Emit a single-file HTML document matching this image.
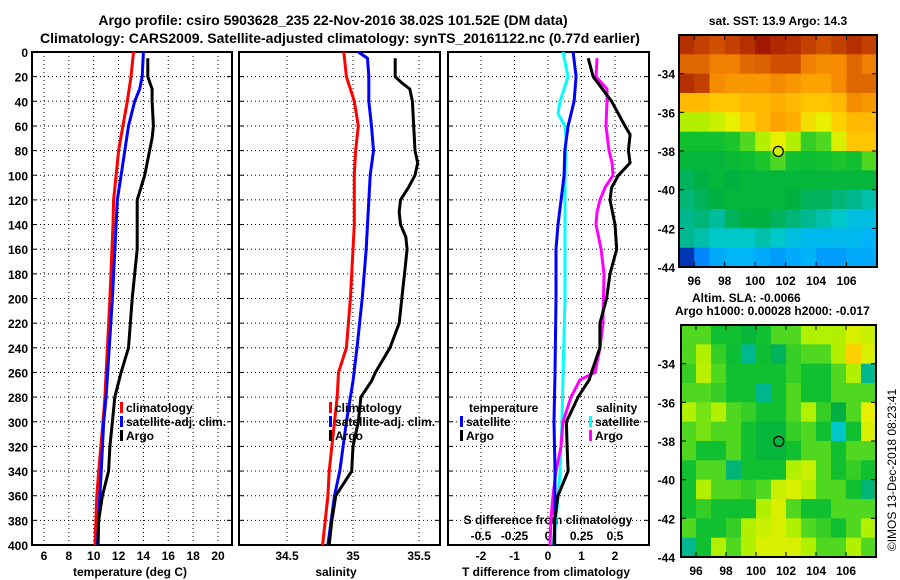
<!DOCTYPE html>
<html><head><meta charset="utf-8">
<style>
html,body{margin:0;padding:0;background:#fff;}
svg{display:block;font-family:"Liberation Sans",Arial,sans-serif;}
.t{font-weight:bold;font-size:12px;fill:#000;}
.h{font-weight:bold;font-size:14px;fill:#000;}
</style></head>
<body>
<svg id="c" width="900" height="580" viewBox="0 0 900 580" xmlns="http://www.w3.org/2000/svg">
<text class="h" x="333" y="25" text-anchor="middle">Argo profile: csiro 5903628_235 22-Nov-2016 38.02S 101.52E (DM data)</text>
<text class="h" x="340" y="43" text-anchor="middle">Climatology: CARS2009. Satellite-adjusted climatology: synTS_20161122.nc (0.77d earlier)</text>
<text class="t" x="778" y="25" text-anchor="middle">sat. SST: 13.9 Argo: 14.3</text>
<text class="t" x="692" y="302">Altim. SLA: -0.0066</text>
<text class="t" x="675" y="315">Argo h1000: 0.00028 h2000: -0.017</text>
<text x="0" y="0" font-size="12" transform="translate(896,470) rotate(-90)" text-anchor="middle">©IMOS 13-Dec-2018 08:23:41</text>
<g id="g"></g>
</svg>
<script>
// ---- profile data ----
const tClimDepth=[0,20,40,60,80,100,120,140,200,280,300,340,360,400];
const tClim=[13.2,13.0,12.7,12.35,12.0,11.8,11.6,11.55,11.3,10.9,10.75,10.4,10.25,10.1];
const tSatDepth=[0,20,30,40,60,80,100,120,140,200,280,300,340,360,400];
const tSat=[14.0,13.9,13.7,13.3,12.8,12.5,12.2,11.9,11.8,11.5,11.0,10.8,10.6,10.5,10.3];
const tArgoDepth=[5,20,30,40,60,70,80,100,120,140,160,200,240,260,280,300,320,340,360,380,400];
const tArgo=[14.35,14.35,14.7,14.7,14.8,14.7,14.5,14.1,13.5,13.5,13.5,13.1,12.8,12.2,11.7,11.5,11.3,11.2,10.7,10.4,10.35];
const sClimDepth=[0,20,40,60,80,100,140,160,200,240,260,280,300,340,360,400];
const sClim=[34.93,34.95,35.01,35.04,35.02,35.01,35.01,35.0,34.98,34.95,34.89,34.88,34.86,34.82,34.81,34.77];
const sSatDepth=[0,5,20,40,60,80,100,140,160,200,240,267,300,340,360,400];
const sSat=[35.04,35.11,35.12,35.12,35.14,35.155,35.13,35.11,35.1,35.07,35.03,35.0,34.95,34.9,34.86,34.81];
const sArgoDepth=[5,20,25,30,40,60,80,90,100,110,120,130,140,150,160,180,200,220,240,260,267,280,300,320,340,360,380,400];
const sArgo=[35.32,35.32,35.37,35.43,35.45,35.46,35.47,35.49,35.47,35.42,35.36,35.35,35.36,35.4,35.41,35.39,35.37,35.35,35.28,35.17,35.14,35.06,35.04,35.0,34.99,34.87,34.84,34.82];
const dTSatDepth=[0,20,40,60,80,100,120,140,160,200,260,300,340,400];
const dTSat=[0.75,0.84,0.78,0.6,0.5,0.48,0.39,0.3,0.24,0.24,0.21,0.18,0.21,0.2];
const dTArgoDepth=[5,20,40,60,67,80,90,100,110,120,140,160,180,200,220,240,260,266,280,300,320,340,360,380,400];
const dTArgo=[1.2,1.35,1.9,2.3,2.45,2.4,2.45,2.1,1.9,1.85,2.0,2.05,1.85,1.75,1.55,1.55,1.3,1.23,0.9,0.55,0.57,0.6,0.3,0.2,0.18];
const dSSatDepth=[0,20,40,50,60,70,100,200,300,340,380,400];
const dSSat=[0.112,0.149,0.09,0.075,0.127,0.134,0.127,0.127,0.104,0.09,0.06,0.037];
const dSArgoDepth=[5,20,30,40,60,80,90,100,110,120,130,140,160,180,220,240,260,266,280,300,320,340,360,380,400];
const dSArgo=[0.366,0.358,0.44,0.44,0.433,0.455,0.478,0.485,0.425,0.388,0.366,0.358,0.396,0.418,0.41,0.388,0.351,0.239,0.172,0.112,0.097,0.06,0.037,0.022,0.015];
const depthTicks=[0,20,40,60,80,100,120,140,160,180,200,220,240,260,280,300,320,340,360,380,400];
const tempTicks=[6,8,10,12,14,16,18,20];
const salTicks=[34.5,35,35.5];
const salTickLabels=["34.5","35","35.5"];
const dTTicks=[-2,-1,0,1,2];
const dSTicks=[-0.5,-0.25,0,0.25,0.5];
const dSTickLabels=["-0.5","-0.25","0","0.25","0.5"];
// ---- map data (1-degree cells, lon 95-108, lat -32 to -44), colour index 0..1 ----
const lonTicks=[96,98,100,102,104,106];
const latTicks=[-34,-36,-38,-40,-42,-44];
const sstGrid=[
[.92,.9,.88,.9,.92,.95,.93,.92,.9,.88,.9,.92,.9],
[.85,.85,.82,.82,.85,.86,.88,.88,.82,.8,.8,.85,.82],
[.92,.9,.8,.78,.78,.78,.8,.78,.76,.76,.8,.85,.85],
[.72,.72,.7,.7,.72,.72,.74,.72,.7,.7,.72,.8,.78],
[.55,.55,.58,.62,.68,.72,.76,.74,.65,.62,.68,.72,.72],
[.45,.45,.45,.46,.5,.55,.62,.55,.48,.5,.6,.7,.7],
[.42,.42,.42,.43,.44,.46,.5,.45,.44,.45,.46,.45,.5],
[.38,.4,.42,.4,.42,.42,.42,.42,.42,.42,.42,.42,.42],
[.36,.38,.4,.42,.42,.42,.42,.4,.38,.38,.36,.34,.32],
[.34,.36,.33,.38,.4,.4,.38,.36,.34,.32,.3,.28,.28],
[.34,.32,.3,.3,.3,.32,.3,.28,.27,.27,.27,.27,.26],
[.12,.22,.25,.26,.26,.25,.24,.25,.26,.24,.24,.25,.25]];
const slaGrid=[
[.5,.5,.45,.45,.42,.45,.5,.5,.55,.55,.55,.6,.58],
[.5,.55,.48,.44,.34,.44,.38,.48,.5,.5,.55,.68,.6],
[.48,.56,.5,.45,.45,.45,.45,.48,.45,.45,.5,.55,.34],
[.5,.5,.48,.45,.45,.34,.45,.5,.45,.45,.5,.5,.5],
[.55,.52,.55,.5,.48,.45,.45,.5,.55,.48,.4,.5,.62],
[.5,.52,.5,.5,.45,.42,.42,.48,.5,.45,.3,.45,.6],
[.5,.45,.45,.5,.45,.42,.42,.45,.5,.5,.45,.5,.5],
[.45,.5,.5,.36,.45,.45,.45,.55,.58,.5,.45,.48,.45],
[.45,.55,.5,.5,.48,.5,.58,.6,.55,.5,.5,.45,.36],
[.45,.48,.45,.45,.45,.55,.6,.5,.45,.45,.5,.5,.5],
[.5,.45,.45,.48,.55,.58,.6,.55,.5,.48,.45,.5,.55],
[.34,.45,.55,.5,.55,.6,.6,.6,.55,.5,.5,.55,.5]];
const argoLon=101.52, argoLat=-38.02;

const NS='http://www.w3.org/2000/svg';
const G=document.getElementById('g');
function mk(tag,attrs,parent){const e=document.createElementNS(NS,tag);for(const k in attrs)e.setAttribute(k,attrs[k]);(parent||G).appendChild(e);return e;}
function txt(s,x,y,anchor,cls){const e=mk('text',{x:x,y:y,'text-anchor':anchor||'middle','class':cls||'t'});e.textContent=s;return e;}
const Y0=52,Y1=545;
const yD=d=>Y0+d/400*(Y1-Y0);
function lin(d0,d1,r0,r1){return v=>r0+(v-d0)/(d1-d0)*(r1-r0);}
const panels=[
 {x0:32,x1:232,name:'temperature-panel'},
 {x0:239,x1:440,name:'salinity-panel'},
 {x0:448,x1:649,name:'difference-panel'}];
const xT=lin(6,20,44,218);
const xS=lin(34.5,35.5,287,419);
const xDT=lin(-2,2,481,615);
const xDS=v=>xDT(v*4);
const vGrid=[tempTicks.map(xT),salTicks.map(xS),dTTicks.map(xDT)];

panels.forEach((p,i)=>{
  const pg=mk('g',{});
  
  
  depthTicks.forEach(d=>{
    const l=mk('line',{x1:p.x0,x2:p.x1,y1:yD(d),y2:yD(d),stroke:'#000','stroke-width':1,'stroke-dasharray':'1,3'},pg);
    
    
    mk('line',{x1:p.x0,x2:p.x0+5,y1:yD(d),y2:yD(d),stroke:'#000'},pg);
    mk('line',{x1:p.x1-5,x2:p.x1,y1:yD(d),y2:yD(d),stroke:'#000'},pg);
  });
  vGrid[i].forEach(x=>{
    const l=mk('line',{x1:x,x2:x,y1:Y0,y2:Y1,stroke:'#000','stroke-width':1,'stroke-dasharray':'1,3'},pg);
    
    
  });
  const r=mk('rect',{x:p.x0,y:Y0,width:p.x1-p.x0,height:Y1-Y0,fill:'none',stroke:'#000','stroke-width':2},pg);
  
  
});
depthTicks.forEach(d=>{const t=txt(String(d),28,yD(d)+5,'end');
  
  });
tempTicks.forEach(v=>{const t=txt(String(v),xT(v),560);
  
  });
salTicks.forEach((v,i)=>{const t=txt(salTickLabels[i],xS(v),560);
  
  });
dTTicks.forEach(v=>{const t=txt(String(v),xDT(v),560);
  
  });
dSTicks.forEach((v,i)=>{const t=txt(dSTickLabels[i],xDS(v),540);
  
  });
let t;
t=txt('temperature (deg C)',130,576);
t=txt('salinity',336,576);
t=txt('T difference from climatology',546,576);
t=txt('S difference from climatology',548,524);

function series(vals,depths,xf,color,name){
  const pts=vals.map((v,i)=>xf(v).toFixed(1)+','+yD(depths[i]).toFixed(1)).join(' ');
  const e=mk('polyline',{points:pts,fill:'none',stroke:color,'stroke-width':3,'stroke-linejoin':'round'});
  
  
}
series(tClim,tClimDepth,xT,'#ff0000','temperature-climatology-line');
series(tSat,tSatDepth,xT,'#0000ff','temperature-satellite-line');
series(tArgo,tArgoDepth,xT,'#000000','temperature-argo-line');
series(sClim,sClimDepth,xS,'#ff0000','salinity-climatology-line');
series(sSat,sSatDepth,xS,'#0000ff','salinity-satellite-line');
series(sArgo,sArgoDepth,xS,'#000000','salinity-argo-line');
series(dSSat,dSSatDepth,xDS,'#00ffff','s-diff-satellite-line');
series(dSArgo,dSArgoDepth,xDS,'#ff00ff','s-diff-argo-line');
series(dTSat,dTSatDepth,xDT,'#0000ff','t-diff-satellite-line');
series(dTArgo,dTArgoDepth,xDT,'#000000','t-diff-argo-line');

function legend(x,y,color,label,name){
  const g=mk('g',{});
  
  
  mk('rect',{x:x,y:y-10,width:3,height:11,fill:color},g);
  const e=document.createElementNS(NS,'text');
  e.setAttribute('x',x+6);e.setAttribute('y',y);e.setAttribute('class','t');e.textContent=label;g.appendChild(e);
}
legend(120,412,'#ff0000','climatology','legend-entry-climatology');
legend(120,426,'#0000ff','satellite-adj. clim.','legend-entry-satellite-adj');
legend(120,440,'#000000','Argo','legend-entry-argo');
legend(329,412,'#ff0000','climatology','legend-entry-climatology-sal');
legend(329,426,'#0000ff','satellite-adj. clim.','legend-entry-satellite-adj-sal');
legend(329,440,'#000000','Argo','legend-entry-argo-sal');
t=txt('temperature',469,412,'start');
t=txt('salinity',596,412,'start');
legend(460,426,'#0000ff','satellite','legend-entry-t-satellite');
legend(460,440,'#000000','Argo','legend-entry-t-argo');
legend(589,426,'#00ffff','satellite','legend-entry-s-satellite');
legend(589,440,'#ff00ff','Argo','legend-entry-s-argo');

// ---- maps ----
const cstops=[[0.1,[0,40,160]],[0.2,[0,112,255]],[0.26,[0,180,248]],[0.3,[0,200,200]],[0.34,[0,184,144]],[0.4,[0,176,64]],[0.45,[16,192,48]],[0.5,[80,216,32]],[0.55,[176,240,0]],[0.62,[232,240,0]],[0.68,[255,208,0]],[0.75,[255,168,0]],[0.82,[240,128,0]],[0.88,[208,80,0]],[0.95,[160,24,0]]];
function cmap(v){
  if(v<=cstops[0][0])return 'rgb('+cstops[0][1]+')';
  for(let i=1;i<cstops.length;i++){if(v<=cstops[i][0]){const a=cstops[i-1],b=cstops[i],f=(v-a[0])/(b[0]-a[0]);
    return 'rgb('+a[1].map((c,k)=>Math.round(c+(b[1][k]-c)*f)).join(',')+')';}}
  return 'rgb('+cstops[cstops.length-1][1]+')';
}
function drawMap(grid,x0,x1,y0,y1,name,fillMarker){
  const g=mk('g',{});
  
  
  const xl=lin(95,108,x0,x1), yl=lin(-32,-44,y0,y1);
  grid.forEach((row,r)=>row.forEach((v,c)=>{
    const cell=mk('rect',{x:xl(95+c).toFixed(1),y:yl(-32-r).toFixed(1),width:(xl(96)-xl(95)+0.6).toFixed(1),height:(yl(-33)-yl(-32)+0.6).toFixed(1),fill:cmap(v)},g);
    
    
  }));
  mk('rect',{x:x0,y:y0,width:x1-x0,height:y1-y0,fill:'none',stroke:'#000','stroke-width':2},g);
  lonTicks.forEach(l=>{mk('line',{x1:xl(l),x2:xl(l),y1:y1,y2:y1-5,stroke:'#000'},g);mk('line',{x1:xl(l),x2:xl(l),y1:y0,y2:y0+5,stroke:'#000'},g);
    const e=txt(String(l),xl(l),y1+18);});
  latTicks.forEach(l=>{mk('line',{x1:x0,x2:x0+5,y1:yl(l),y2:yl(l),stroke:'#000'},g);mk('line',{x1:x1,x2:x1-5,y1:yl(l),y2:yl(l),stroke:'#000'},g);
    const e=txt(String(l),675,yl(l)+5,'end');});
  const m=mk('circle',{cx:xl(argoLon),cy:yl(argoLat),r:5,fill:fillMarker,stroke:'#000','stroke-width':1.2},g);
  
  
}
drawMap(sstGrid,679,877,35,267,'sst-map','#c8f000');
drawMap(slaGrid,681,876,325,557,'sla-map','none');
</script>
</body></html>
